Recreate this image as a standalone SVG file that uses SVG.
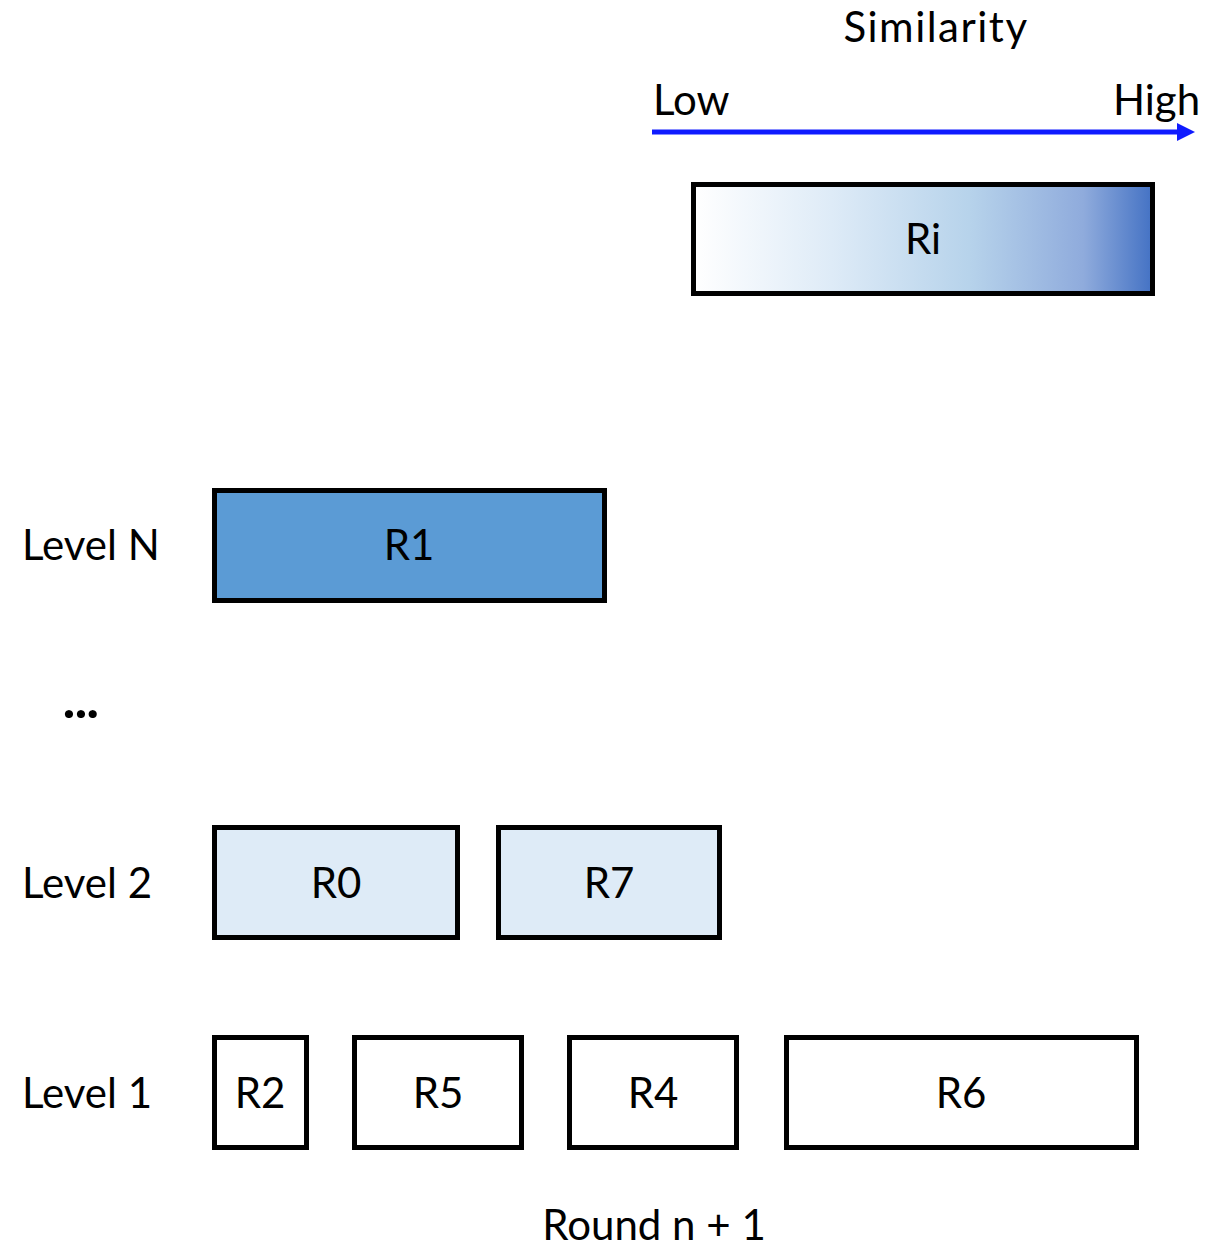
<svg xmlns="http://www.w3.org/2000/svg" width="1225" height="1249" viewBox="0 0 1225 1249">
<style>
text{font-family:Lato,"Open Sans","Liberation Sans",sans-serif;font-size:42px;fill:#000}
.c{text-anchor:middle}
.box{stroke:#000;stroke-width:5}
</style>
<defs>
<linearGradient id="g" x1="0" y1="0" x2="1" y2="0">
<stop offset="0" stop-color="#ffffff"/>
<stop offset="0.3" stop-color="#deebf7"/>
<stop offset="0.6" stop-color="#b7d3eb"/>
<stop offset="0.85" stop-color="#8fabdc"/>
<stop offset="1" stop-color="#4472c4"/>
</linearGradient>
<marker id="ah" markerWidth="6" markerHeight="6" refX="0" refY="3" orient="auto" markerUnits="userSpaceOnUse" viewBox="0 0 6 6" overflow="visible">
<path d="M0,-6 L18,3 L0,12 Z" fill="#0f1bff"/>
</marker>
</defs>
<rect width="1225" height="1249" fill="#fff"/>
<text class="c" x="936" y="42" style="letter-spacing:1.5px">Similarity</text>
<text x="653" y="115">Low</text>
<text x="1113" y="115">High</text>
<g id="connectors">
<line x1="652" y1="132" x2="1177" y2="132" stroke="#0f1bff" stroke-width="5" marker-end="url(#ah)"/>
</g>
<g id="Ri"><rect class="box" x="693.5" y="184.5" width="459" height="109" fill="url(#g)"/><text class="c" x="923" y="254">Ri</text></g>
<text x="22" y="560">Level N</text>
<g id="R1"><rect class="box" x="214.5" y="490.5" width="390" height="110" fill="#5b9bd5"/><text class="c" x="409" y="560">R1</text></g>
<text x="63" y="718" style="font-weight:900;font-size:50px">...</text>
<text x="22" y="898">Level 2</text>
<g id="R0"><rect class="box" x="214.5" y="827.5" width="243" height="110" fill="#deebf7"/><text class="c" x="336" y="898">R0</text></g>
<g id="R7"><rect class="box" x="498.5" y="827.5" width="221" height="110" fill="#deebf7"/><text class="c" x="609" y="898">R7</text></g>
<text x="22" y="1108">Level 1</text>
<g id="R2"><rect class="box" x="214.5" y="1037.5" width="92" height="110" fill="#fff"/><text class="c" x="260" y="1108">R2</text></g>
<g id="R5"><rect class="box" x="354.5" y="1037.5" width="167" height="110" fill="#fff"/><text class="c" x="438" y="1108">R5</text></g>
<g id="R4"><rect class="box" x="569.5" y="1037.5" width="167" height="110" fill="#fff"/><text class="c" x="653" y="1108">R4</text></g>
<g id="R6"><rect class="box" x="786.5" y="1037.5" width="350" height="110" fill="#fff"/><text class="c" x="961" y="1108">R6</text></g>
<text class="c" x="654" y="1240">Round n + 1</text>
</svg>
